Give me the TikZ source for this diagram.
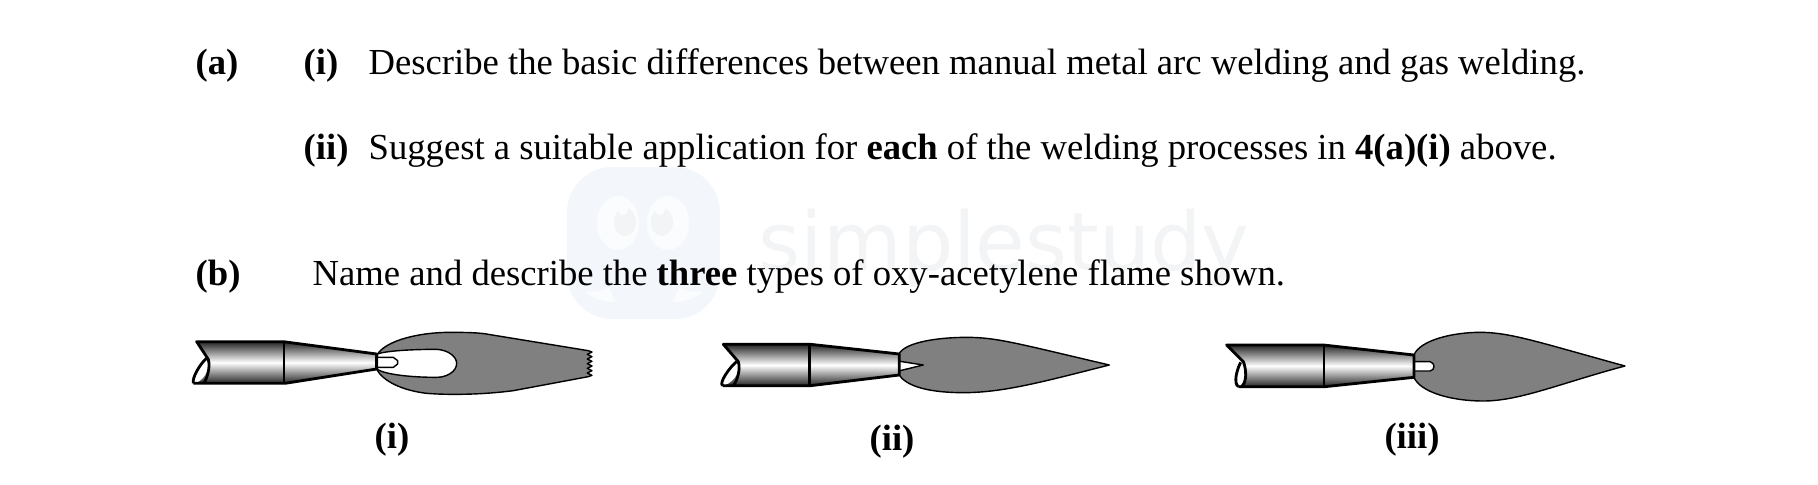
\documentclass[tikz,border=0pt]{standalone}
\usepackage{fontspec}
\setmainfont{Liberation Serif}
\newfontfamily\marksans{DejaVu Sans}
\definecolor{markblue}{HTML}{F3F7FC}
\definecolor{markeye}{HTML}{FBFCFE}
\definecolor{markgrey}{HTML}{F3F4F6}
\definecolor{flamegrey}{HTML}{808080}
\tikzset{
	txt/.style={anchor=base west,inner sep=0pt,font=\fontsize{10.43}{12}\selectfont},
	lab/.style={anchor=base,inner sep=0pt,font=\fontsize{10.43}{12}\selectfont\bfseries},
	zoomed/.style={x=1cm/300,y=-1cm/300},
	steel/.style={top color=black!85,bottom color=black!85,middle color=white},
	outline/.style={line width=0.8pt,line join=round},
	flame/.style={fill=flamegrey,draw=black,line width=0.4pt,line join=round},
	inner/.style={fill=white,draw=black,line width=0.4pt,line join=round},
}
\begin{document}
\begin{tikzpicture}
\useasboundingbox (0,0) rectangle (18.18,4.84);
% watermark
\fill[markblue,rounded corners=0.45cm] (5.67,1.65) rectangle (7.20,3.17);
\fill[markeye] (6.18,2.61) ellipse (0.21 and 0.27);
\fill[markeye] (6.68,2.61) ellipse (0.21 and 0.27);
\fill[markgrey] (6.25,2.62) ellipse (0.11 and 0.14);
\fill[markgrey] (6.62,2.62) ellipse (0.11 and 0.14);
\fill[markeye] (6.23,2.74) circle (0.05);
\fill[markeye] (6.60,2.74) circle (0.05);
\fill[markeye] (5.85,1.92) .. controls (5.95,1.92) and (6.03,1.93) .. (6.09,1.96) -- (6.15,1.82) .. controls (6.05,1.82) and (5.95,1.85) .. cycle;
\fill[markeye] (7.03,1.92) .. controls (6.93,1.92) and (6.85,1.93) .. (6.79,1.96) -- (6.73,1.82) .. controls (6.83,1.82) and (6.93,1.85) .. cycle;
\node[anchor=base west,inner sep=0pt,text=markgrey,font=\marksans\fontsize{23}{26}\selectfont] (mark) at (7.58,2.14) {simplestudy};
% question text
\node[txt] (parta) at (1.95,4.10) {\textbf{(a)}};
\node[txt] (parti) at (3.03,4.10) {\textbf{(i)}};
\node[txt] (textone) at (3.68,4.10) {Describe the basic differences between manual metal arc welding and gas welding.};
\node[txt] (partii) at (3.03,3.25) {\textbf{(ii)}};
\node[txt] (texttwo) at (3.68,3.25) {Suggest a suitable application for \textbf{each} of the welding processes in \textbf{4(a)(i)} above.};
\node[txt] (partb) at (1.95,1.99) {\textbf{(b)}};
\node[txt] (textthree) at (3.12,1.99) {Name and describe the \textbf{three} types of oxy-acetylene flame shown.};
\node[lab] (labi) at (3.92,0.36) {(i)};
\node[lab] (labii) at (8.92,0.34) {(ii)};
\node[lab] (labiii) at (14.12,0.36) {(iii)};
% flame i
\begin{scope}[shift={(1.80cm,1.64cm)},zoomed]
\draw[flame] (592,103) .. controls (620,60) and (720,37) .. (810,37) .. controls (860,37) and (900,38) .. (925,43) -- (1225,92)
	-- (1236,96) -- (1222,103) -- (1236,110) -- (1222,117) -- (1236,124) -- (1222,131) -- (1236,138) -- (1222,145) -- (1236,152) -- (1222,159) -- (1236,166) -- (1225,170)
	-- (1000,212) .. controls (900,225) and (800,225) .. (740,220) .. controls (670,212) and (610,185) .. (590,148) -- cycle;
\draw[inner] (592,102) .. controls (620,92) and (700,88) .. (770,88) .. controls (805,90) and (830,110) .. (830,130) .. controls (830,155) and (800,172) .. (770,172) .. controls (700,172) and (620,165) .. (592,148) -- cycle;
\draw[inner] (592,112) -- (640,112) -- (653,122) -- (653,132) -- (640,142) -- (592,142);
\shade[steel] (50,65) -- (312,65) -- (312,190) -- (40,190) .. controls (70,190) and (95,140) .. (85,118) -- cycle;
\shade[steel] (312,65) -- (590,103) -- (590,145) -- (312,190) -- cycle;
\draw[outline] (40,190) -- (315,190) -- (590,147) -- (590,102) -- (310,65) -- (50,65) -- (85,118) .. controls (92,145) and (80,175) .. (72,190);
\draw[outline] (83,112) .. controls (60,130) and (35,175) .. (40,190);
\draw[outline] (312,65) -- (312,190);
\end{scope}
% flame ii
\begin{scope}[shift={(7.10cm,1.64cm)},zoomed]
\draw[flame] (568,100) .. controls (590,65) and (690,52) .. (770,52) .. controls (860,52) and (920,70) .. (1198,135) .. controls (1000,185) and (880,218) .. (760,218) .. controls (660,218) and (590,200) .. (568,165) -- cycle;
\draw[inner] (570,124) -- (640,135) -- (570,152);
\shade[steel] (40,73) -- (300,73) -- (300,197) -- (35,197) .. controls (65,197) and (95,155) .. (85,125) -- cycle;
\shade[steel] (300,73) -- (568,102) -- (568,165) -- (300,197) -- cycle;
\draw[outline] (38,197) -- (302,197) -- (568,165) -- (568,102) -- (302,73) -- (40,73) -- (85,125) .. controls (92,150) and (82,180) .. (70,197);
\draw[outline] (80,125) .. controls (60,140) and (25,190) .. (38,197);
\draw[outline] (298,73) -- (298,197);
\end{scope}
% flame iii
\begin{scope}[shift={(12.10cm,1.64cm)},zoomed]
\draw[flame] (612,105) .. controls (630,60) and (730,37) .. (810,37) .. controls (900,37) and (980,65) .. (1245,138) .. controls (1050,190) and (930,243) .. (820,243) .. controls (720,243) and (630,215) .. (612,172) -- cycle;
\draw[inner] (614,125) -- (660,125) .. controls (668,127) and (672,133) .. (672,139) .. controls (672,146) and (668,152) .. (660,153) -- (614,153);
\shade[steel] (50,75) -- (342,75) -- (342,200) -- (85,200) .. controls (105,195) and (118,150) .. (100,125) -- cycle;
\shade[steel] (342,75) -- (612,105) -- (612,172) -- (342,200) -- cycle;
\draw[outline] (85,200) -- (345,200) -- (612,172) -- (612,105) -- (340,75) -- (50,75) -- (100,125) .. controls (110,150) and (110,185) .. (96,199);
\draw[outline] (92,127) .. controls (80,150) and (70,190) .. (85,200);
\draw[outline] (342,75) -- (342,200);
\end{scope}
\end{tikzpicture}
\end{document}
